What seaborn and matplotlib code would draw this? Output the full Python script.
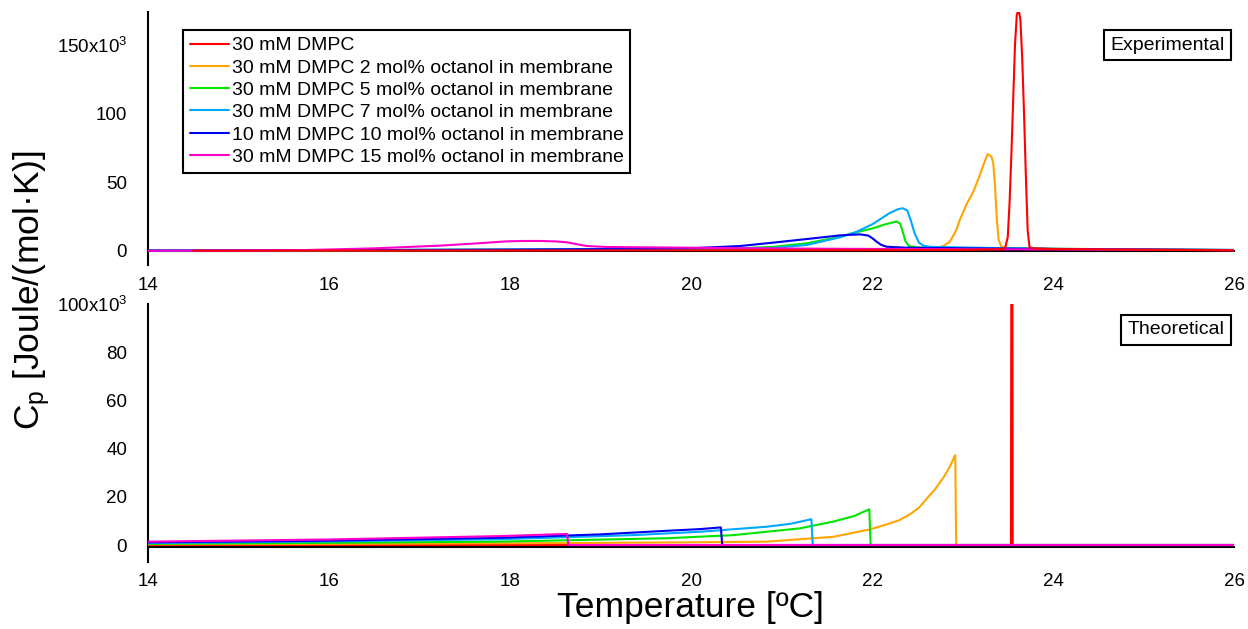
import matplotlib
matplotlib.use("Agg")
import matplotlib.pyplot as plt
from matplotlib.lines import Line2D
import numpy as np
import pandas as pd
import seaborn as sns

# ---------------- data ----------------
labels = [
    "30 mM DMPC",
    "30 mM DMPC 2 mol% octanol in membrane",
    "30 mM DMPC 5 mol% octanol in membrane",
    "30 mM DMPC 7 mol% octanol in membrane",
    "10 mM DMPC 10 mol% octanol in membrane",
    "30 mM DMPC 15 mol% octanol in membrane",
]
colors = ["#ff0000", "#ffa500", "#00e600", "#00a8ff", "#0000f0", "#ff00cc"]

# Experimental (values in units of 10^3 J/(mol K))
exp_T_red = [14.5, 16, 18, 20, 22, 23.0, 23.4, 23.47, 23.50, 23.52, 23.54, 23.56, 23.58, 23.60, 23.62,
             23.64, 23.66, 23.68, 23.70, 23.72, 23.74, 23.77, 24.0, 25.0, 26.0]
exp_Cp_red = [0.2, 0.3, 0.4, 0.5, 0.6, 0.8, 1.2, 2, 10, 35, 70, 110, 150, 172, 176,
              168, 140, 100, 55, 15, 3, 2, 1.4, 0.9, 0.5]

exp_T_or = [14, 16, 18, 20, 21, 22, 22.5, 22.7, 22.79, 22.86, 22.93, 22.97, 23.05, 23.12, 23.19, 23.25,
            23.28, 23.32, 23.34, 23.36, 23.38, 23.40, 23.43, 23.5, 23.8, 24.5, 25.2, 26]
exp_Cp_or = [0.2, 0.4, 0.6, 0.8, 1.0, 1.3, 1.7, 2.2, 3.6, 6.8, 15, 22.6, 34.7, 43.2, 55, 66,
             70.6, 68.7, 63.9, 46.8, 22.6, 8, 3, 2.2, 1.8, 1.4, 1.0, 0.6]

exp_T_gr = [14, 16, 18, 20, 20.54, 20.91, 21.28, 21.65, 21.76, 22.01, 22.15, 22.27, 22.31, 22.34, 22.37,
            22.41, 22.5, 22.71, 23.5, 24.5, 26]
exp_Cp_gr = [0.3, 0.6, 1.0, 1.6, 2.0, 3.0, 5.6, 10.4, 12.5, 16.5, 19.5, 21.5, 20, 14, 7,
             3.5, 2.6, 2.4, 1.8, 1.2, 0.7]

exp_T_cy = [14, 16, 18, 20, 20.91, 21.28, 21.65, 21.83, 22.01, 22.19, 22.29, 22.34, 22.39, 22.43, 22.47,
            22.52, 22.57, 22.65, 22.97, 23.5, 24.5, 26]
exp_Cp_cy = [0.3, 0.6, 1.0, 1.6, 2.2, 4.4, 10, 14, 19.7, 27.4, 30.5, 31.1, 29.5, 22, 13,
             6, 3.8, 3, 2.6, 2.0, 1.3, 0.8]

exp_T_bl = [14, 16, 18, 19.5, 19.99, 20.54, 20.91, 21.28, 21.65, 21.87, 21.96, 22.01, 22.05, 22.10,
            22.16, 22.38, 22.97, 23.5, 24.5, 26]
exp_Cp_bl = [0.3, 0.6, 1.0, 1.5, 2.0, 3.6, 6.1, 8.7, 11.4, 12.1, 11.2, 9.0, 6.8, 4.5,
             3.1, 2.4, 2.0, 1.7, 1.2, 0.7]

exp_T_pk = [14, 14.5, 15.0, 15.75, 16.49, 17.23, 17.6, 17.96, 18.15, 18.33, 18.5, 18.63, 18.75, 18.85,
            19.07, 19.99, 20.54, 21.65, 22.97, 24, 25, 26]
exp_Cp_pk = [0.2, 0.3, 0.4, 0.7, 1.9, 3.9, 5.4, 7.0, 7.3, 7.3, 7.0, 6.3, 4.8, 3.6,
             2.9, 2.4, 2.0, 1.6, 1.3, 1.1, 0.9, 0.6]

# Theoretical
th_T_red = [14, 23.535, 23.545, 23.555, 26]
th_Cp_red = [0, 0, 250, 0, 0]

th_T_or = [14, 16, 18, 20, 20.84, 21.57, 21.98, 22.16, 22.30, 22.41, 22.52, 22.60, 22.70, 22.79,
           22.86, 22.92, 22.93, 26]
th_Cp_or = [0.3, 0.45, 0.7, 1.1, 1.4, 3.4, 6.5, 8.5, 10.3, 12.5, 15.5, 19, 23.3, 28,
            32.5, 37.3, 0, 0]

th_T_gr = [14, 16, 17.89, 19.73, 20.47, 21.20, 21.57, 21.80, 21.97, 21.985, 26]
th_Cp_gr = [0.5, 0.9, 1.4, 2.8, 4.1, 6.9, 9.7, 12.0, 14.8, 0, 0]

th_T_cy = [14, 16, 17.89, 19.36, 20.10, 20.84, 21.10, 21.33, 21.345, 26]
th_Cp_cy = [0.8, 1.5, 2.4, 4.1, 5.5, 7.6, 8.8, 10.7, 0, 0]

th_T_bl = [14, 16, 17.89, 18.99, 19.73, 20.10, 20.33, 20.345, 26]
th_Cp_bl = [1.1, 1.8, 3.0, 4.4, 5.9, 6.6, 7.3, 0, 0]

th_T_pk = [14, 16, 17.89, 18.30, 18.63, 18.645, 26]
th_Cp_pk = [1.4, 2.3, 3.7, 4.2, 4.6, 0, 0]

x_ticks = [14, 16, 18, 20, 22, 24, 26]
top_yticks = [0, 50, 100, 150]
top_yticklabels = ["0", "50", "100", "150x10$^{3}$"]
bot_yticks = [0, 20, 40, 60, 80, 100]
bot_yticklabels = ["0", "20", "40", "60", "80", "100x10$^{3}$"]


def make_df(Ts, Cps):
    frames = []
    for lab, t, c in zip(labels, Ts, Cps):
        frames.append(pd.DataFrame({"T": t, "Cp": c, "series": lab}))
    return pd.concat(frames, ignore_index=True)


df_exp = make_df([exp_T_red, exp_T_or, exp_T_gr, exp_T_cy, exp_T_bl, exp_T_pk],
                 [exp_Cp_red, exp_Cp_or, exp_Cp_gr, exp_Cp_cy, exp_Cp_bl, exp_Cp_pk])
df_th = make_df([th_T_red, th_T_or, th_T_gr, th_T_cy, th_T_bl, th_T_pk],
                [th_Cp_red, th_Cp_or, th_Cp_gr, th_Cp_cy, th_Cp_bl, th_Cp_pk])

# ---------------- style ----------------
sns.set_style("white")
plt.rcParams["font.family"] = ["Liberation Sans", "DejaVu Sans"]
plt.rcParams["mathtext.default"] = "regular"
plt.rcParams["mathtext.fontset"] = "custom"
plt.rcParams["mathtext.rm"] = "Liberation Sans"
for k in ("text.color", "axes.labelcolor", "xtick.color", "ytick.color", "axes.edgecolor"):
    plt.rcParams[k] = "black"

W, H = 1248, 629
fig = plt.figure(figsize=(W / 100, H / 100), dpi=100)


def px_axes(left, top, right, bottom):
    return fig.add_axes([left / W, 1 - bottom / H, (right - left) / W, (bottom - top) / H])


ax1 = px_axes(148, 12, 1234, 265)
ax2 = px_axes(148, 304, 1234, 562)

for ax, df in ((ax1, df_exp), (ax2, df_th)):
    sns.lineplot(data=df, x="T", y="Cp", hue="series", hue_order=labels, palette=colors,
                 estimator=None, sort=False, legend=False, linewidth=1.5, ax=ax)
    for ln in ax.get_lines():
        ln.set_zorder(3)

# in the experimental panel the red trace sits on top of the others
ax1.get_lines()[0].set_zorder(4)

ax1.set_ylim(-10.2, 174)
ax2.set_ylim(-7.05, 100)

for ax, yt, ytl, spos in ((ax1, top_yticks, top_yticklabels, 0),
                          (ax2, bot_yticks, bot_yticklabels, -0.9)):
    ax.set_xlim(14, 26)
    ax.set_xticks(x_ticks)
    ax.set_xticklabels([str(t) for t in x_ticks])
    ax.set_yticks(yt)
    ax.set_yticklabels(ytl)
    ax.set_xlabel("")
    ax.set_ylabel("")
    for s in ("top", "right"):
        ax.spines[s].set_visible(False)
    ax.spines["bottom"].set_position(("data", spos))
    for s in ("left", "bottom"):
        ax.spines[s].set_linewidth(1.5)
        ax.spines[s].set_color("black")
    ax.tick_params(axis="both", direction="out", length=10, width=1.5, colors="black",
                   labelcolor="black", labelsize=13.5)
    ax.tick_params(axis="x", pad=8.5)
    ax.tick_params(axis="y", pad=5)
    ax.patch.set_alpha(0)

# legend
handles = [Line2D([], [], color=c, lw=1.5) for c in colors]
leg = ax1.legend(handles, labels, loc="upper left", bbox_to_anchor=(35 / 1086, 1 - 18 / 253),
                 borderaxespad=0, fontsize=14, frameon=True, fancybox=False, framealpha=1,
                 edgecolor="black", handlelength=2.0, handletextpad=0.15, labelspacing=0.24,
                 borderpad=0.35)
leg.get_frame().set_linewidth(1.5)
leg.set_zorder(5)
for t in leg.get_texts():
    t.set_color("black")

box = dict(boxstyle="square,pad=0.33", fc="white", ec="black", lw=1.5)
ax1.text(0.9915, 0.903, "Experimental", transform=ax1.transAxes, ha="right", va="top",
         fontsize=14, color="black", bbox=box, zorder=5)
ax2.text(0.9915, 0.933, "Theoretical", transform=ax2.transAxes, ha="right", va="top",
         fontsize=14, color="black", bbox=box, zorder=5)

fig.text(32 / W, 1 - 290 / H, "C$_{p}$ [Joule/(mol·K)]", rotation=90, ha="center", va="center",
         fontsize=25.5, color="black")
fig.text(690 / W, 1 - 608 / H, "Temperature [ºC]", ha="center", va="center", fontsize=25.5,
         color="black")

fig.savefig("out.png", dpi=100)
